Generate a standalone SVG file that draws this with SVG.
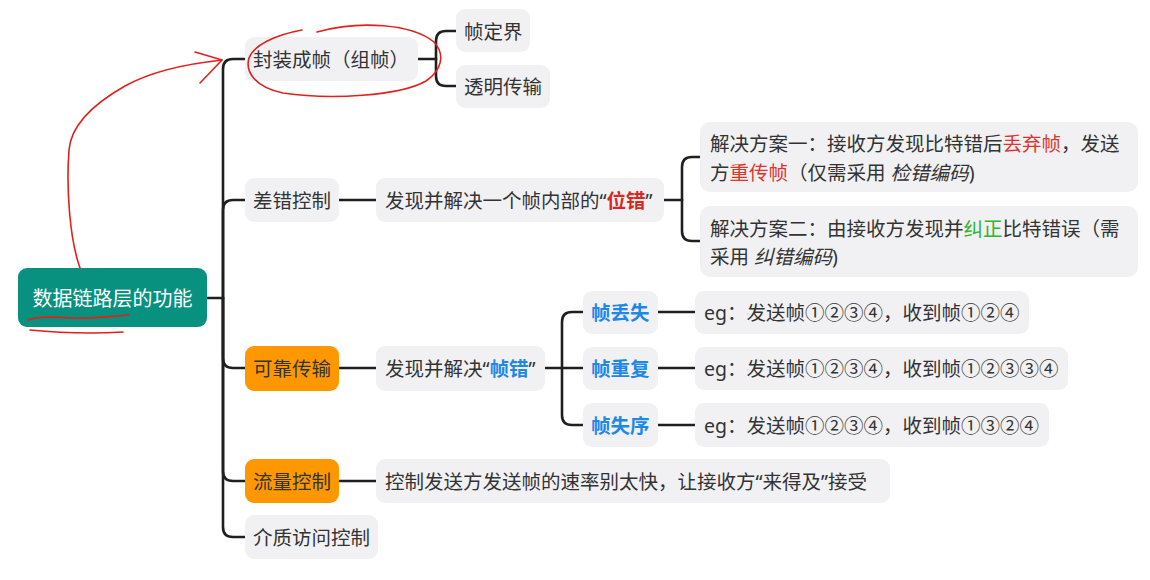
<svg xmlns="http://www.w3.org/2000/svg" width="1150" height="580" viewBox="0 0 1150 580">
<style>
.box{fill:#f1f1f4}
.t{font-family:"Noto Sans","Noto Sans CJK SC",sans-serif;font-size:19.5px;fill:#333;dominant-baseline:central}
.root{font-family:"Noto Sans","Noto Sans CJK SC",sans-serif;font-size:20px;fill:#fff;dominant-baseline:central}
.or{fill:#ff9800}
.red{fill:#e0332d}
.redb{fill:#d42a22;font-weight:bold}
.blue{fill:#1e88e5;font-weight:600}
.blueb{fill:#1e88e5;font-weight:bold}
.green{fill:#2fb52f}
.it{font-style:italic}
.c{fill:none;stroke:#1f1f1f;stroke-width:2.6;stroke-linecap:round;stroke-linejoin:round}
.ink{fill:none;stroke:#e2201b;stroke-width:1.6;stroke-linecap:round;stroke-linejoin:round}
</style>
<rect width="1150" height="580" fill="#fff"/>
<g id="connectors">
<path class="c" d="M207 298 H223"/>
<path class="c" d="M223 298 V69 Q223 59 233 59 H245"/>
<path class="c" d="M223 298 V210 Q223 200 233 200 H245"/>
<path class="c" d="M223 298 V358 Q223 368 233 368 H245"/>
<path class="c" d="M223 298 V471 Q223 481 233 481 H245"/>
<path class="c" d="M223 298 V527 Q223 537 233 537 H245"/>
<path class="c" d="M418 59 H436"/>
<path class="c" d="M436 59 V41 Q436 31 446 31 H456"/>
<path class="c" d="M436 59 V76 Q436 86 446 86 H456"/>
<path class="c" d="M339 200 H376"/>
<path class="c" d="M664 200 H682"/>
<path class="c" d="M682 200 V167 Q682 157 692 157 H700"/>
<path class="c" d="M682 200 V231 Q682 241 692 241 H700"/>
<path class="c" d="M339 368 H376"/>
<path class="c" d="M545 368 H583"/>
<path class="c" d="M562 368 V322 Q562 312 572 312 H583"/>
<path class="c" d="M562 368 V415 Q562 425 572 425 H583"/>
<path class="c" d="M658 312 H695"/>
<path class="c" d="M658 368 H695"/>
<path class="c" d="M658 425 H695"/>
<path class="c" d="M339 481 H376"/>
</g>
<g id="root">
<rect x="18" y="268" width="189" height="59" rx="9" fill="#09917f"/>
<text class="root" x="112.5" y="298" text-anchor="middle">数据链路层的功能</text>
</g>
<g id="n-framing">
<rect class="box" x="245" y="37" width="173" height="44" rx="9"/>
<text class="t" x="253" y="59">封装成帧（组帧）</text>
</g>
<g id="n-delimit">
<rect class="box" x="456" y="9" width="74" height="43" rx="9"/>
<text class="t" x="464" y="31">帧定界</text>
</g>
<g id="n-transparent">
<rect class="box" x="456" y="65" width="94" height="43" rx="9"/>
<text class="t" x="464" y="86">透明传输</text>
</g>
<g id="n-error">
<rect class="box" x="245" y="178" width="94" height="44" rx="9"/>
<text class="t" x="253" y="200">差错控制</text>
</g>
<g id="n-biterr">
<rect class="box" x="376" y="178" width="288" height="44" rx="9"/>
<text class="t" x="385" y="200">发现并解决一个帧内部的“<tspan class="redb">位错</tspan>”</text>
</g>
<g id="n-sol1">
<rect class="box" x="700" y="122" width="438" height="70" rx="10"/>
<text class="t" x="710" y="143">解决方案一：接收方发现比特错后<tspan class="red">丢弃帧</tspan>，发送</text>
<text class="t" x="710" y="172">方<tspan class="red">重传帧</tspan>（仅需采用 <tspan class="it">检错编码</tspan>)</text>
</g>
<g id="n-sol2">
<rect class="box" x="700" y="206" width="438" height="71" rx="10"/>
<text class="t" x="710" y="228">解决方案二：由接收方发现并<tspan class="green">纠正</tspan>比特错误（需</text>
<text class="t" x="710" y="256">采用 <tspan class="it">纠错编码</tspan>)</text>
</g>
<g id="n-reliable">
<rect class="or" x="245" y="346" width="94" height="45" rx="9"/>
<text class="t" x="253" y="368">可靠传输</text>
</g>
<g id="n-frameerr">
<rect class="box" x="376" y="346" width="169" height="45" rx="9"/>
<text class="t" x="385" y="368">发现并解决“<tspan class="blueb">帧错</tspan>”</text>
</g>
<g id="n-lost">
<rect class="box" x="583" y="291" width="75" height="43" rx="9"/>
<text class="t blue" x="591" y="312">帧丢失</text>
</g>
<g id="n-dup">
<rect class="box" x="583" y="347" width="75" height="43" rx="9"/>
<text class="t blue" x="591" y="368">帧重复</text>
</g>
<g id="n-order">
<rect class="box" x="583" y="403" width="75" height="44" rx="9"/>
<text class="t blue" x="591" y="425">帧失序</text>
</g>
<g id="n-eg1">
<rect class="box" x="695" y="291" width="334" height="43" rx="9"/>
<text class="t" x="704" y="312">eg：发送帧①②③④，收到帧①②④</text>
</g>
<g id="n-eg2">
<rect class="box" x="695" y="347" width="373" height="43" rx="9"/>
<text class="t" x="704" y="368">eg：发送帧①②③④，收到帧①②③③④</text>
</g>
<g id="n-eg3">
<rect class="box" x="695" y="403" width="354" height="44" rx="9"/>
<text class="t" x="704" y="425">eg：发送帧①②③④，收到帧①③②④</text>
</g>
<g id="n-flow">
<rect class="or" x="245" y="459" width="94" height="44" rx="9"/>
<text class="t" x="253" y="481">流量控制</text>
</g>
<g id="n-flowdesc">
<rect class="box" x="376" y="459" width="514" height="44" rx="9"/>
<text class="t" x="385" y="481">控制发送方发送帧的速率别太快，让接收方“来得及”接受</text>
</g>
<g id="n-mac">
<rect class="box" x="245" y="515" width="133" height="44" rx="9"/>
<text class="t" x="253" y="537">介质访问控制</text>
</g>
<g id="annotations">
<path class="ink" d="M80 268 C70 240 66 190 69 150 C71 125 95 103 125 86 C152 71 185 64 222 60"/>
<path class="ink" d="M195 52 L222 60 L200 83"/>
<path class="ink" d="M317 32 C360 20 412 24 434 42 C446 55 441 71 426 81 C400 96 330 100 283 93 C255 87 245 72 249 58 C254 45 275 35 302 30"/>
<path class="ink" d="M28 320 C40 316 55 317 75 318 C95 319 112 316 129 315"/>
<path class="ink" d="M30 330 C60 333 92 334 123 332"/>
</g>
</svg>
